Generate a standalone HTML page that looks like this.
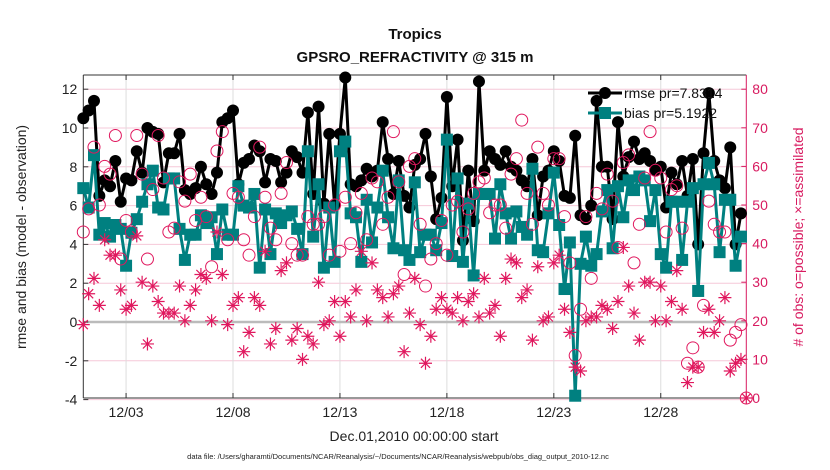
<!DOCTYPE html>
<html><head><meta charset="utf-8"><style>
html,body{margin:0;padding:0;background:#fff;}
svg{display:block;font-family:"Liberation Sans",Arial,sans-serif;}
</style></head><body>
<svg id="chart" width="830" height="470" viewBox="0 0 830 470">
<text x="415" y="39" text-anchor="middle" font-size="15" font-weight="bold" fill="#111">Tropics</text>
<text x="415" y="62" text-anchor="middle" font-size="15" font-weight="bold" fill="#111">GPSRO_REFRACTIVITY @ 315 m</text>
<g id="grid"></g><g id="axes"></g><g id="series"></g>
<text x="414" y="441" text-anchor="middle" font-size="14" fill="#222">Dec.01,2010 00:00:00 start</text>
<text x="398" y="459" text-anchor="middle" font-size="7.5" fill="#222">data file: /Users/gharamti/Documents/NCAR/Reanalysis/~/Documents/NCAR/Reanalysis/webpub/obs_diag_output_2010-12.nc</text>
<text transform="translate(26,237) rotate(-90)" text-anchor="middle" font-size="14" fill="#222">rmse and bias (model - observation)</text>
<text transform="translate(803,237) rotate(-90)" text-anchor="middle" font-size="14" fill="#d81b60"># of obs: o=possible; ×=assimilated</text>
<g>
<line x1="588" y1="93" x2="622" y2="93" stroke="#000" stroke-width="3"/><circle cx="605" cy="93" r="6" fill="#000"/>
<text x="624" y="98" font-size="14" fill="#111">rmse pr=7.8314</text>
<line x1="588" y1="113" x2="622" y2="113" stroke="#008080" stroke-width="3"/><rect x="599" y="107" width="12" height="12" fill="#008080"/>
<text x="624" y="118" font-size="14" fill="#111">bias pr=5.1922</text>
</g>
</svg>
<script>
const rmse=[10.5,10.9,11.4,6.5,7.3,7.0,8.3,6.2,7.4,7.3,8.8,7.7,10.0,9.8,9.7,7.2,8.7,8.7,9.7,6.8,6.6,6.9,8.0,7.1,6.6,7.7,10.3,10.5,10.9,7.1,8.2,8.4,
9.1,8.8,7.2,8.4,8.3,7.2,7.7,8.8,8.5,7.7,10.8,6.6,11.1,6.1,9.7,6.0,9.7,12.6,7.1,7.0,7.3,7.9,7.5,7.8,10.3,8.4,6.6,8.3,6.5,5.9,8.1,
8.4,9.7,7.5,5.3,6.4,11.6,7.0,9.4,4.2,7.8,5.2,12.4,7.8,8.8,8.4,8.1,8.8,8.0,7.8,7.3,7.0,8.4,5.5,7.5,7.8,8.8,8.3,6.5,6.4,9.6,5.5,
5.3,6.0,11.4,8.0,8.0,5.3,10.3,7.5,8.5,9.3,8.4,8.7,8.3,7.8,8.0,5.9,7.7,7.1,8.3,6.5,8.4,4.0,8.7,11.8,8.3,7.3,6.9,9.0,4.0,5.6,null];
const bias=[6.9,5.9,8.6,4.5,5.1,4.4,5.0,4.8,2.9,4.6,5.3,6.2,7.1,7.8,5.9,5.8,7.4,7.4,4.8,3.2,4.5,4.5,5.5,5.1,5.4,3.5,5.8,4.5,4.5,7.0,6.0,5.9,
6.6,2.8,5.8,3.5,5.6,5.1,5.5,5.7,4.8,3.5,8.8,4.4,7.1,2.8,5.9,3.1,8.8,9.3,5.6,5.4,3.1,6.3,4.1,5.9,7.8,5.4,3.8,7.3,3.7,3.2,7.2,
3.6,4.5,4.5,3.7,5.1,9.4,3.4,7.4,3.1,6.1,2.4,6.6,6.6,6.6,4.3,7.1,5.6,4.3,5.7,4.9,4.5,7.9,3.7,3.6,5.6,7.7,5.0,1.7,4.1,-3.8,3.0,
4.4,2.9,3.5,5.7,6.8,3.8,7.0,5.4,7.3,6.8,7.5,7.3,5.2,6.8,3.5,2.8,6.2,6.2,3.2,6.2,6.9,1.6,7.1,8.2,7.1,3.6,6.3,6.3,2.9,4.4,null];
const possible=[43,49,65,50,60,58,68,36,46,43,68,58,36,54,68,57,43,44,56,51,58,46,52,47,34,64,69,41,53,52,41,37,
47,65,52,44,41,53,61,40,37,37,47,45,45,47,37,50,38,52,40,48,53,41,57,56,45,52,69,56,32,60,62,
45,29,36,40,46,37,50,51,43,49,53,56,57,48,50,50,44,58,62,72,53,45,65,53,50,62,62,47,35,11,23,
47,31,53,49,58,51,39,61,63,35,45,57,69,59,57,43,54,55,44,9,13,8,24,51,45,43,43,15,17,19,0];
const assimilated=[19,27,31,24,41,37,37,28,23,24,42,30,14,29,25,22,22,22,29,20,24,28,32,31,20,43,32,19,24,26,12,17,
26,24,38,14,18,33,35,15,18,10,16,14,30,19,20,25,16,25,21,28,38,20,35,28,26,21,27,29,12,22,31,
19,9,16,23,26,23,22,26,20,25,27,21,31,22,24,16,31,36,35,26,28,15,34,20,21,35,37,23,17,8,7,
20,21,21,24,23,18,25,39,29,22,15,30,30,20,29,20,25,33,23,4,8,8,17,23,17,20,26,7,9,10,0];
const xTickDays=[2,7,12,17,22,27];
const xTickLabels=["12/03","12/08","12/13","12/18","12/23","12/28"];
const yTicks=[-4,-2,0,2,4,6,8,10,12];
const y2Ticks=[0,10,20,30,40,50,60,70,80];

const NS="http://www.w3.org/2000/svg";
const L=83.3,R=746.3,T=75,B=398;
const X=d=>L+(d/31)*(R-L);
const Y=v=>322-19.4*v;
const Y2=n=>B-3.86*n;
const day=i=>i*0.25;
function mk(tag,attrs,parent){const e=document.createElementNS(NS,tag);for(const k in attrs)e.setAttribute(k,attrs[k]);parent.appendChild(e);return e;}
const grid=document.getElementById('grid'),axes=document.getElementById('axes'),ser=document.getElementById('series');
mk('rect',{x:L,y:T,width:R-L,height:B-T,fill:'#fff'},grid);
yTicks.forEach(v=>{if(v===0)return;const l=mk('line',{x1:L,x2:R,y1:Y(v),y2:Y(v),stroke:'#f6c8d8','stroke-width':1},grid);

});
xTickDays.forEach(d=>{const l=mk('line',{x1:X(d),x2:X(d),y1:T,y2:B,stroke:'#ddd','stroke-width':1},grid);

});
const zl=mk('line',{x1:L,x2:R,y1:Y(0),y2:Y(0),stroke:'#bbb','stroke-width':2.5},grid);


mk('line',{x1:L,x2:L,y1:T,y2:B,stroke:'#333','stroke-width':1},axes);
mk('line',{x1:L,x2:R,y1:B,y2:B,stroke:'#333','stroke-width':1},axes);
mk('line',{x1:L,x2:R,y1:T,y2:T,stroke:'#333','stroke-width':1},axes);
mk('line',{x1:R,x2:R,y1:T,y2:B,stroke:'#d81b60','stroke-width':1},axes);
yTicks.forEach(v=>{mk('line',{x1:L,x2:L+5,y1:Y(v),y2:Y(v),stroke:'#333'},axes);
const t=mk('text',{x:L-6,y:Y(v)+5,'text-anchor':'end','font-size':14,fill:'#222'},axes);t.textContent=v;

});
y2Ticks.forEach(n=>{mk('line',{x1:R-5,x2:R,y1:Y2(n),y2:Y2(n),stroke:'#d81b60'},axes);
const t=mk('text',{x:R+6,y:Y2(n)+5,'font-size':14,fill:'#d81b60'},axes);t.textContent=n;

});
xTickDays.forEach((d,i)=>{mk('line',{x1:X(d),x2:X(d),y1:B,y2:B-5,stroke:'#333'},axes);mk('line',{x1:X(d),x2:X(d),y1:T,y2:T+5,stroke:'#333'},axes);
const t=mk('text',{x:X(d),y:B+19,'text-anchor':'middle','font-size':14,fill:'#222'},axes);t.textContent=xTickLabels[i];

});
function linePath(arr){let d='',pen=false;arr.forEach((v,i)=>{if(v===null){pen=false;return;}d+=(pen?'L':'M')+X(day(i)).toFixed(1)+','+Y(v).toFixed(1);pen=true;});return d;}
const rl=mk('path',{d:linePath(rmse),fill:'none',stroke:'#000','stroke-width':3,'stroke-linejoin':'round'},ser);


rmse.forEach((v,i)=>{if(v===null)return;const c=mk('circle',{cx:X(day(i)),cy:Y(v),r:6,fill:'#000'},ser);

});
const bl=mk('path',{d:linePath(bias),fill:'none',stroke:'#008080','stroke-width':3,'stroke-linejoin':'round'},ser);


bias.forEach((v,i)=>{if(v===null)return;const s=mk('rect',{x:X(day(i))-6,y:Y(v)-6,width:12,height:12,fill:'#008080'},ser);

});
possible.forEach((n,i)=>{const c=mk('circle',{cx:X(day(i)),cy:Y2(n),r:6,fill:'none',stroke:'#e0185e','stroke-width':1},ser);

});
assimilated.forEach((n,i)=>{const x=X(day(i)),y=Y2(n),r=6.5,r2=r*0.7;
const d=`M${x-r},${y}L${x+r},${y}M${x},${y-r}L${x},${y+r}M${x-r2},${y-r2}L${x+r2},${y+r2}M${x-r2},${y+r2}L${x+r2},${y-r2}`;
const p=mk('path',{d:d,stroke:'#e0185e','stroke-width':1.2,fill:'none'},ser);

});
</script>
</body></html>
